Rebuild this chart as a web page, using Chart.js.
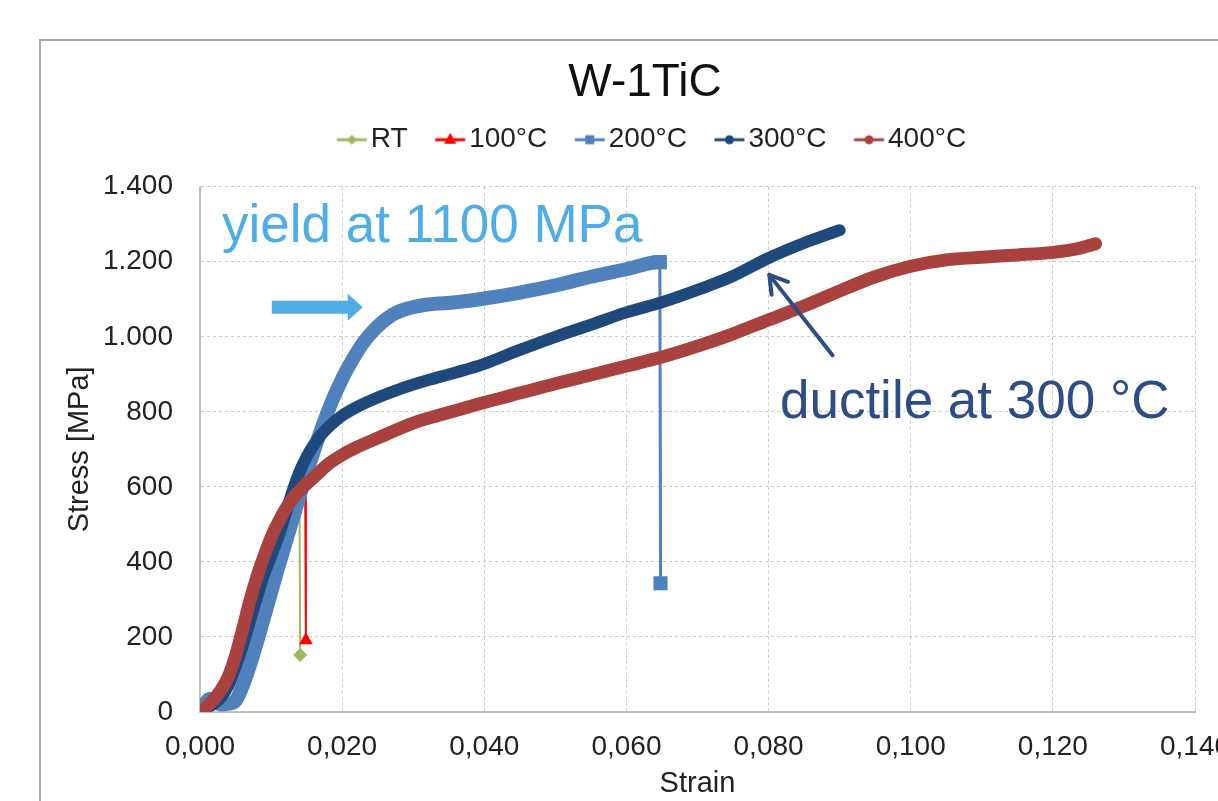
<!DOCTYPE html>
<html>
<head>
<meta charset="utf-8">
<script src="https://cdn.jsdelivr.net/npm/chart.js@4"></script>
<style>
    html, body { margin: 0; padding: 0; background: #fff; overflow: hidden; }
    #frame { position: absolute; left: 39px; top: 39px; width: 1400px; height: 1000px; border-left: 2px solid #a8a8a8; border-top: 2px solid #a8a8a8; }
    #wrap { position: absolute; left: 0; top: 0; width: 1218px; height: 801px; }
</style>
</head>
<body>
<div id="frame"></div>
<div id="wrap"><canvas id="chart" width="1218" height="801"></canvas></div>
<script>
// 데이터
const rtStrain = [0, 0.001, 0.002, 0.003, 0.004, 0.006, 0.008, 0.010, 0.012, 0.0140, 0.0141];
const rtStress = [0, 25, 35, 50, 90, 200, 320, 420, 500, 575, 152];

const t100Strain = [0, 0.001, 0.002, 0.004, 0.006, 0.008, 0.010, 0.012, 0.014, 0.0148, 0.0149];
const t100Stress = [0, 15, 30, 85, 190, 310, 410, 500, 570, 600, 191];

const t200Strain = [0, 0.0005, 0.001, 0.0015, 0.002, 0.003, 0.004, 0.005, 0.0065, 0.008, 0.0095, 0.011, 0.0125, 0.014, 0.0155, 0.017, 0.0185, 0.020, 0.0215, 0.023, 0.025, 0.027, 0.029, 0.032, 0.036, 0.040, 0.045, 0.050, 0.055, 0.060, 0.0647, 0.0648];
const t200Stress = [0, 15, 30, 35, 28, 20, 22, 30, 95, 185, 285, 385, 480, 575, 665, 750, 825, 888, 940, 985, 1028, 1058, 1074, 1086, 1092, 1102, 1118, 1137, 1160, 1180, 1199, 343];

const t300Strain = [0, 0.001, 0.002, 0.003, 0.004, 0.005, 0.006, 0.007, 0.008, 0.009, 0.010, 0.011, 0.012, 0.013, 0.014, 0.015, 0.016, 0.017, 0.018, 0.020, 0.022, 0.025, 0.028, 0.032, 0.036, 0.040, 0.045, 0.050, 0.055, 0.060, 0.065, 0.070, 0.075, 0.080, 0.085, 0.090];
const t300Stress = [0, 12, 22, 40, 70, 118, 175, 240, 305, 365, 415, 465, 525, 588, 640, 680, 712, 738, 758, 790, 812, 838, 860, 884, 905, 928, 965, 1000, 1032, 1065, 1092, 1125, 1162, 1210, 1250, 1284];

const t400Strain = [0, 0.001, 0.002, 0.003, 0.004, 0.005, 0.006, 0.007, 0.008, 0.009, 0.010, 0.011, 0.012, 0.013, 0.014, 0.015, 0.016, 0.018, 0.020, 0.022, 0.025, 0.030, 0.035, 0.040, 0.045, 0.050, 0.055, 0.060, 0.065, 0.070, 0.075, 0.080, 0.085, 0.090, 0.095, 0.100, 0.105, 0.110, 0.115, 0.120, 0.1235, 0.126];
const t400Stress = [0, 15, 35, 60, 95, 150, 220, 295, 360, 415, 465, 505, 540, 568, 590, 608, 625, 660, 685, 705, 730, 770, 798, 825, 850, 875, 898, 922, 946, 975, 1008, 1045, 1082, 1122, 1160, 1188, 1205, 1212, 1218, 1225, 1235, 1248];

const seriesLabels = ['RT', '100°C', '200°C', '300°C', '400°C'];
const xTicks = { min: 0, max: 0.14, step: 0.02 };
const yTicks = { min: 0, max: 1400, step: 200 };

// 주석 (데이터 좌표)
const yieldNote = { text: 'yield at 1100 MPa', strain: 0.0031, stress: 1253 };
const yieldArrow = { from: 0.0101, to: 0.0229, stress: 1079 };
const ductileNote = { text: 'ductile at 300 °C', strain: 0.0816, stress: 783 };
const ductileArrow = { from: [0.0890, 951], to: [0.0801, 1165] };

const FONT = "'Liberation Sans', Arial, sans-serif";
const TEXT = '#222';
const colors = ['#9BBB59', '#FF0000', '#4F81BD', '#1F497D', '#A9423E'];

Chart.defaults.font.family = FONT;
Chart.defaults.color = TEXT;

const pts = (xs, ys) => xs.map((x, i) => ({ x: x, y: ys[i] }));
const endMarker = (n, r, k) => Array.from({ length: n }, (_, i) => (i >= n - (k || 1) ? r : 0));

// 범례 아이콘: 선 + 마커
function legendIcon(color, shape) {
    const c = document.createElement('canvas');
    c.width = 56; c.height = 20;
    const g = c.getContext('2d');
    g.strokeStyle = color; g.fillStyle = color; g.lineWidth = 3;
    g.beginPath(); g.moveTo(24.5, 10); g.lineTo(54.5, 10); g.stroke();
    const cx = 39.5, cy = 10;
    g.beginPath();
    if (shape === 'diamond') {
        g.moveTo(cx, cy - 5); g.lineTo(cx + 5, cy); g.lineTo(cx, cy + 5); g.lineTo(cx - 5, cy);
    } else if (shape === 'triangle') {
        g.moveTo(cx, cy - 7); g.lineTo(cx + 6, cy + 4); g.lineTo(cx - 6, cy + 4);
    } else if (shape === 'square') {
        g.rect(cx - 4.5, cy - 4.5, 9, 9);
    } else {
        g.arc(cx, cy, 4.5, 0, Math.PI * 2);
    }
    g.closePath(); g.fill();
    return c;
}
const legendIcons = [
    legendIcon(colors[0], 'diamond'),
    legendIcon(colors[1], 'triangle'),
    legendIcon(colors[2], 'square'),
    legendIcon(colors[3], 'circle'),
    legendIcon(colors[4], 'circle')
];

const annotations = {
    id: 'annotations',
    afterDatasetsDraw(chart) {
        const { ctx, scales: { x, y } } = chart;
        ctx.save();
        ctx.font = '53px ' + FONT;
        ctx.textBaseline = 'alphabetic';
        ctx.textAlign = 'left';

        ctx.fillStyle = '#4FADE6';
        ctx.fillText(yieldNote.text, x.getPixelForValue(yieldNote.strain), y.getPixelForValue(yieldNote.stress));
        const ax0 = x.getPixelForValue(yieldArrow.from), ax1 = x.getPixelForValue(yieldArrow.to);
        const ay = y.getPixelForValue(yieldArrow.stress), axh = ax1 - 15;
        ctx.beginPath();
        ctx.moveTo(ax0, ay - 6.5); ctx.lineTo(axh, ay - 6.5); ctx.lineTo(axh, ay - 13.5);
        ctx.lineTo(ax1, ay); ctx.lineTo(axh, ay + 13.5); ctx.lineTo(axh, ay + 6.5); ctx.lineTo(ax0, ay + 6.5);
        ctx.closePath(); ctx.fill();

        ctx.fillStyle = '#2E4C86';
        ctx.fillText(ductileNote.text, x.getPixelForValue(ductileNote.strain), y.getPixelForValue(ductileNote.stress));
        const p0 = { x: x.getPixelForValue(ductileArrow.from[0]), y: y.getPixelForValue(ductileArrow.from[1]) };
        const p1 = { x: x.getPixelForValue(ductileArrow.to[0]), y: y.getPixelForValue(ductileArrow.to[1]) };
        const ang = Math.atan2(p1.y - p0.y, p1.x - p0.x);
        ctx.strokeStyle = '#2E4C86'; ctx.lineWidth = 4; ctx.lineCap = 'round'; ctx.lineJoin = 'round';
        ctx.beginPath(); ctx.moveTo(p0.x, p0.y); ctx.lineTo(p1.x, p1.y); ctx.stroke();
        ctx.beginPath();
        ctx.moveTo(p1.x - 20 * Math.cos(ang - 0.55), p1.y - 20 * Math.sin(ang - 0.55));
        ctx.lineTo(p1.x, p1.y);
        ctx.lineTo(p1.x - 20 * Math.cos(ang + 0.55), p1.y - 20 * Math.sin(ang + 0.55));
        ctx.stroke();
        ctx.restore();
    }
};

const fmtY = v => v >= 1000 ? Math.floor(v / 1000) + '.' + String(v % 1000).padStart(3, '0') : String(v);
const fmtX = v => v.toFixed(3).replace('.', ',');

const gridOpts = { color: '#c9c9c9', lineWidth: 1, drawTicks: false };
const borderOpts = { display: true, color: '#bfbfbf', width: 2, dash: [3, 3] };

const n200 = t200Strain.length;

new Chart(document.getElementById('chart'), {
    type: 'scatter',
    data: {
        datasets: [
            {
                label: seriesLabels[0], data: pts(rtStrain, rtStress), showLine: true,
                borderColor: colors[0], backgroundColor: colors[0], borderWidth: 2,
                pointStyle: 'rectRot', pointRadius: endMarker(rtStrain.length, 7), pointBorderWidth: 0,
                xAxisID: 'x', yAxisID: 'y', order: 4
            },
            {
                label: seriesLabels[1], data: pts(t100Strain, t100Stress), showLine: true,
                borderColor: colors[1], backgroundColor: colors[1], borderWidth: 2,
                pointStyle: 'triangle', pointRadius: endMarker(t100Strain.length, 8), pointBorderWidth: 0,
                xAxisID: 'x', yAxisID: 'y', order: 3
            },
            {
                label: seriesLabels[2], data: pts(t200Strain, t200Stress), showLine: true,
                borderColor: colors[2], backgroundColor: colors[2], borderWidth: 14,
                borderJoinStyle: 'round', borderCapStyle: 'round', cubicInterpolationMode: 'monotone',
                segment: { borderWidth: ctx => ctx.p1DataIndex === n200 - 1 ? 3 : 14 },
                pointStyle: 'rect', pointRadius: endMarker(n200, 10, 2), pointBorderWidth: 0,
                xAxisID: 'x', yAxisID: 'y', order: 2
            },
            {
                label: seriesLabels[3], data: pts(t300Strain, t300Stress), showLine: true,
                borderColor: colors[3], backgroundColor: colors[3], borderWidth: 12,
                borderJoinStyle: 'round', borderCapStyle: 'round', cubicInterpolationMode: 'monotone', pointRadius: 0,
                xAxisID: 'x', yAxisID: 'y', order: 1
            },
            {
                label: seriesLabels[4], data: pts(t400Strain, t400Stress), showLine: true,
                borderColor: colors[4], backgroundColor: colors[4], borderWidth: 13,
                borderJoinStyle: 'round', borderCapStyle: 'round', cubicInterpolationMode: 'monotone', pointRadius: 0,
                xAxisID: 'x', yAxisID: 'y', order: 0
            }
        ]
    },
    options: {
        responsive: false,
        animation: false,
        layout: { padding: { left: 40, right: -32, top: 0, bottom: 0 } },
        plugins: {
            tooltip: { enabled: false },
            title: {
                display: true, text: 'W-1TiC', color: '#111',
                font: { size: 46, weight: 'normal', family: FONT },
                padding: { top: 56, bottom: 0 }
            },
            legend: {
                display: true, position: 'top',
                labels: {
                    usePointStyle: true, pointStyleWidth: 33, padding: 14.5,
                    font: { size: 28, family: FONT }, color: TEXT,
                    generateLabels(chart) {
                        const items = Chart.defaults.plugins.legend.labels.generateLabels(chart);
                        items.forEach(it => { it.pointStyle = legendIcons[it.datasetIndex]; });
                        return items;
                    },
                    sort: (a, b) => a.datasetIndex - b.datasetIndex
                }
            }
        },
        scales: {
            x: {
                type: 'linear', position: 'bottom', min: xTicks.min, max: xTicks.max,
                ticks: { stepSize: xTicks.step, callback: fmtX, font: { size: 28 }, color: TEXT, padding: 18, maxRotation: 0, autoSkip: false },
                grid: gridOpts, border: borderOpts,
                title: { display: true, text: 'Strain', font: { size: 29 }, color: TEXT, padding: { top: 0, bottom: 0 } },
                afterFit(s) { s.height = 89; s.paddingLeft = 0; s.paddingRight = 0; }
            },
            y: {
                type: 'linear', position: 'left', min: yTicks.min, max: yTicks.max,
                ticks: { stepSize: yTicks.step, callback: fmtY, font: { size: 28 }, color: TEXT, padding: 27 },
                grid: gridOpts, border: borderOpts,
                title: { display: true, text: 'Stress [MPa]', font: { size: 29 }, color: TEXT, padding: { top: 23, bottom: 0 } },
                afterFit(s) { s.width = 160; s.paddingTop = 0; s.paddingBottom = 0; }
            },
            xTop: {
                type: 'linear', position: 'top', display: true,
                grid: { display: false }, border: { display: false }, ticks: { display: false },
                afterFit(s) { s.height = 23; }
            },
            yRight: {
                type: 'linear', position: 'right', display: true,
                grid: { display: false }, border: { display: false }, ticks: { display: false },
                afterFit(s) { s.width = 55; }
            }
        }
    },
    plugins: [annotations]
});
</script>
</body>
</html>
